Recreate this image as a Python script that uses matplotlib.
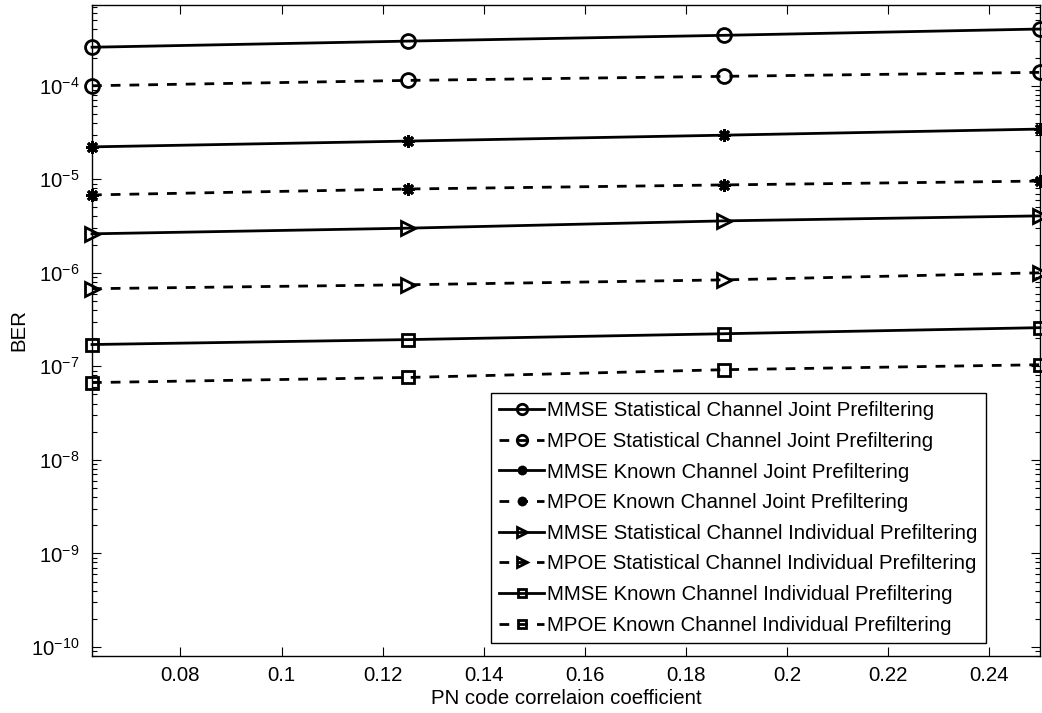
import matplotlib
matplotlib.use("Agg")
import matplotlib.pyplot as plt
import numpy as np

plt.rcParams['font.family'] = ['Liberation Sans', 'DejaVu Sans']
plt.rcParams['mathtext.default'] = 'regular'
plt.rcParams['mathtext.fontset'] = 'custom'
plt.rcParams['mathtext.rm'] = 'Liberation Sans'
plt.rcParams['lines.scale_dashes'] = False

x = [0.0625, 0.125, 0.1875, 0.25]

mmse_stat_joint = [2.58e-4, 3.0e-4, 3.46e-4, 4.04e-4]
mpoe_stat_joint = [1.0e-4, 1.14e-4, 1.26e-4, 1.39e-4]
mmse_known_joint = [2.22e-5, 2.56e-5, 2.96e-5, 3.44e-5]
mpoe_known_joint = [6.8e-6, 7.87e-6, 8.7e-6, 9.57e-6]
mmse_stat_ind = [2.61e-6, 3.0e-6, 3.59e-6, 4.06e-6]
mpoe_stat_ind = [6.76e-7, 7.45e-7, 8.4e-7, 1.0e-6]
mmse_known_ind = [1.71e-7, 1.93e-7, 2.23e-7, 2.59e-7]
mpoe_known_ind = [6.7e-8, 7.6e-8, 9.2e-8, 1.04e-7]

labels = [
    "MMSE Statistical Channel Joint Prefiltering",
    "MPOE Statistical Channel Joint Prefiltering",
    "MMSE Known Channel Joint Prefiltering",
    "MPOE Known Channel Joint Prefiltering",
    "MMSE Statistical Channel Individual Prefiltering",
    "MPOE Statistical Channel Individual Prefiltering",
    "MMSE Known Channel Individual Prefiltering",
    "MPOE Known Channel Individual Prefiltering",
]
series = [mmse_stat_joint, mpoe_stat_joint, mmse_known_joint, mpoe_known_joint,
          mmse_stat_ind, mpoe_stat_ind, mmse_known_ind, mpoe_known_ind]
markers = ['o', 'o', (8, 2, 0), (8, 2, 0), '>', '>', 's', 's']
msizes = [10, 10, 9, 9, 10, 10, 8, 8]

fig = plt.figure(figsize=(10.42, 7.13), dpi=100)
ax = fig.add_axes([0.0883, 0.080, 0.9097, 0.913])

for i, (y, lab, m, ms) in enumerate(zip(series, labels, markers, msizes)):
    ls = '-' if i % 2 == 0 else (0, (7, 6.5))
    ax.plot(x, y, color='black', linestyle=ls, linewidth=2, marker=m,
            markersize=ms, markerfacecolor='none',
            markeredgewidth=2, markeredgecolor='black', label=lab, clip_on=False)

ax.set_yscale('log')
ax.set_xlim(0.0625, 0.25)
ax.set_ylim(8.0e-11, 7.3e-4)
ax.set_xticks([0.08, 0.1, 0.12, 0.14, 0.16, 0.18, 0.2, 0.22, 0.24])
ax.set_xticklabels(['0.08', '0.1', '0.12', '0.14', '0.16', '0.18', '0.2', '0.22', '0.24'])
ax.set_yticks([1e-10, 1e-9, 1e-8, 1e-7, 1e-6, 1e-5, 1e-4])
ax.tick_params(which='both', direction='in', top=True, right=True, labelsize=14.7, width=0.8)
ax.tick_params(which='major', length=6.5)
ax.tick_params(which='minor', length=3.5)
ax.tick_params(axis='x', pad=7)
ax.tick_params(axis='y', pad=9)
for s in ax.spines.values():
    s.set_linewidth(1.0)

ax.set_xlabel('PN code correlaion coefficient', fontsize=14.7, labelpad=3)
ax.set_ylabel('BER', fontsize=14.7, labelpad=2)

leg = ax.legend(loc='lower right', bbox_to_anchor=(0.943, 0.02), fontsize=14.7,
                handlelength=2.2, handletextpad=0.15, labelspacing=0.57,
                borderpad=0.4, borderaxespad=0, fancybox=False, framealpha=1,
                edgecolor='black', markerscale=0.75)
leg.get_frame().set_linewidth(1.0)

fig.savefig('out.png', dpi=100)
